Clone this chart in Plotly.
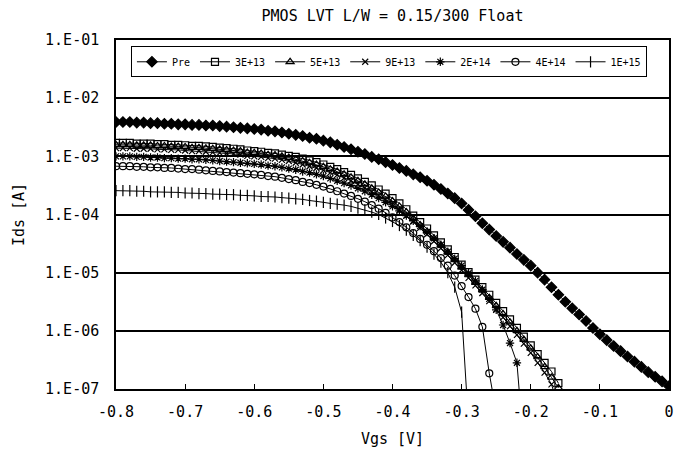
import plotly.graph_objects as go

vgs = [-0.80, -0.79, -0.78, -0.77, -0.76, -0.75, -0.74, -0.73, -0.72, -0.71,
       -0.70, -0.69, -0.68, -0.67, -0.66, -0.65, -0.64, -0.63, -0.62, -0.61,
       -0.60, -0.59, -0.58, -0.57, -0.56, -0.55, -0.54, -0.53, -0.52, -0.51,
       -0.50, -0.49, -0.48, -0.47, -0.46, -0.45, -0.44, -0.43, -0.42, -0.41,
       -0.40, -0.39, -0.38, -0.37, -0.36, -0.35, -0.34, -0.33, -0.32, -0.31,
       -0.30, -0.29, -0.28, -0.27, -0.26, -0.25, -0.24, -0.23, -0.22, -0.21,
       -0.20, -0.19, -0.18, -0.17, -0.16, -0.15, -0.14, -0.13, -0.12, -0.11,
       -0.10, -0.09, -0.08, -0.07, -0.06, -0.05, -0.04, -0.03, -0.02, -0.01,
       0.00]

ids_pre = [3.89e-3, 3.89e-3, 3.89e-3, 3.80e-3, 3.80e-3, 3.72e-3, 3.72e-3, 3.63e-3, 3.63e-3, 3.55e-3,
           3.55e-3, 3.47e-3, 3.47e-3, 3.39e-3, 3.39e-3, 3.31e-3, 3.24e-3, 3.16e-3, 3.09e-3, 3.02e-3,
           2.95e-3, 2.88e-3, 2.75e-3, 2.69e-3, 2.57e-3, 2.45e-3, 2.34e-3, 2.24e-3, 2.09e-3, 2.00e-3,
           1.86e-3, 1.74e-3, 1.58e-3, 1.45e-3, 1.32e-3, 1.20e-3, 1.10e-3, 9.77e-4, 8.91e-4, 7.94e-4,
           7.08e-4, 6.31e-4, 5.62e-4, 4.90e-4, 4.37e-4, 3.80e-4, 3.24e-4, 2.75e-4, 2.29e-4, 1.91e-4,
           1.55e-4, 1.20e-4, 9.33e-5, 7.08e-5, 5.50e-5, 4.27e-5, 3.39e-5, 2.69e-5, 2.09e-5, 1.66e-5,
           1.32e-5, 1.00e-5, 7.59e-6, 5.62e-6, 4.17e-6, 3.16e-6, 2.45e-6, 1.91e-6, 1.48e-6, 1.12e-6,
           8.71e-7, 6.92e-7, 5.50e-7, 4.47e-7, 3.63e-7, 2.95e-7, 2.40e-7, 1.95e-7, 1.62e-7, 1.35e-7,
           1.12e-7]

ids_3e13 = [1.70e-3, 1.70e-3, 1.70e-3, 1.66e-3, 1.66e-3, 1.66e-3, 1.62e-3, 1.62e-3, 1.58e-3, 1.58e-3,
            1.55e-3, 1.51e-3, 1.51e-3, 1.48e-3, 1.45e-3, 1.41e-3, 1.38e-3, 1.35e-3, 1.32e-3, 1.26e-3,
            1.23e-3, 1.20e-3, 1.15e-3, 1.12e-3, 1.07e-3, 1.02e-3, 9.77e-4, 9.12e-4, 8.51e-4, 7.94e-4,
            7.24e-4, 6.61e-4, 6.03e-4, 5.37e-4, 4.79e-4, 4.17e-4, 3.63e-4, 3.16e-4, 2.69e-4, 2.29e-4,
            1.91e-4, 1.55e-4, 1.23e-4, 9.55e-5, 7.41e-5, 5.75e-5, 4.37e-5, 3.31e-5, 2.51e-5, 1.86e-5,
            1.38e-5, 1.02e-5, 7.59e-6, 5.62e-6, 4.17e-6, 3.02e-6, 2.19e-6, 1.58e-6, 1.12e-6, 7.94e-7,
            5.62e-7, 3.98e-7, 2.82e-7, 2.00e-7, 1.26e-7, None, None, None, None, None,
            None, None, None, None, None, None, None, None, None, None,
            None]

ids_5e13 = [1.58e-3, 1.58e-3, 1.58e-3, 1.55e-3, 1.55e-3, 1.55e-3, 1.51e-3, 1.51e-3, 1.48e-3, 1.48e-3,
            1.45e-3, 1.41e-3, 1.41e-3, 1.38e-3, 1.35e-3, 1.32e-3, 1.29e-3, 1.26e-3, 1.23e-3, 1.17e-3,
            1.15e-3, 1.12e-3, 1.07e-3, 1.05e-3, 1.00e-3, 9.55e-4, 8.91e-4, 8.32e-4, 7.76e-4, 7.24e-4,
            6.61e-4, 6.03e-4, 5.50e-4, 4.90e-4, 4.37e-4, 3.80e-4, 3.31e-4, 2.82e-4, 2.40e-4, 2.04e-4,
            1.70e-4, 1.38e-4, 1.10e-4, 8.51e-5, 6.61e-5, 5.13e-5, 3.89e-5, 2.95e-5, 2.24e-5, 1.66e-5,
            1.23e-5, 9.12e-6, 6.76e-6, 5.01e-6, 3.72e-6, 2.69e-6, 1.95e-6, 1.41e-6, 1.00e-6, 7.08e-7,
            5.01e-7, 3.55e-7, 2.40e-7, 1.58e-7, 1.05e-7, None, None, None, None, None,
            None, None, None, None, None, None, None, None, None, None,
            None]

ids_9e13 = [1.38e-3, 1.38e-3, 1.38e-3, 1.35e-3, 1.35e-3, 1.35e-3, 1.32e-3, 1.32e-3, 1.29e-3, 1.29e-3,
            1.26e-3, 1.23e-3, 1.23e-3, 1.20e-3, 1.17e-3, 1.15e-3, 1.12e-3, 1.10e-3, 1.07e-3, 1.02e-3,
            1.00e-3, 9.77e-4, 9.33e-4, 9.12e-4, 8.71e-4, 8.32e-4, 7.76e-4, 7.24e-4, 6.76e-4, 6.31e-4,
            5.75e-4, 5.25e-4, 4.79e-4, 4.27e-4, 3.80e-4, 3.31e-4, 2.88e-4, 2.45e-4, 2.09e-4, 1.78e-4,
            1.48e-4, 1.20e-4, 9.55e-5, 7.59e-5, 5.89e-5, 4.57e-5, 3.47e-5, 2.63e-5, 2.00e-5, 1.48e-5,
            1.10e-5, 8.13e-6, 6.03e-6, 4.47e-6, 3.24e-6, 2.34e-6, 1.70e-6, 1.20e-6, 8.51e-7, 6.03e-7,
            4.17e-7, 2.82e-7, 1.91e-7, 1.20e-7, 5.01e-8, None, None, None, None, None,
            None, None, None, None, None, None, None, None, None, None,
            None]

ids_2e14 = [1.00e-3, 1.00e-3, 1.00e-3, 9.77e-4, 9.77e-4, 9.55e-4, 9.55e-4, 9.33e-4, 9.33e-4, 9.12e-4,
            9.12e-4, 8.91e-4, 8.91e-4, 8.71e-4, 8.51e-4, 8.32e-4, 8.13e-4, 7.94e-4, 7.76e-4, 7.59e-4,
            7.41e-4, 7.24e-4, 6.92e-4, 6.76e-4, 6.46e-4, 6.17e-4, 5.89e-4, 5.50e-4, 5.25e-4, 4.90e-4,
            4.57e-4, 4.17e-4, 3.80e-4, 3.47e-4, 3.16e-4, 2.82e-4, 2.51e-4, 2.19e-4, 1.91e-4, 1.62e-4,
            1.38e-4, 1.15e-4, 9.55e-5, 7.76e-5, 6.31e-5, 5.01e-5, 3.89e-5, 3.02e-5, 2.29e-5, 1.74e-5,
            1.32e-5, 9.77e-6, 7.24e-6, 5.13e-6, 3.55e-6, 2.29e-6, 1.26e-6, 6.17e-7, 2.82e-7, 1.00e-8,
            None, None, None, None, None, None, None, None, None, None,
            None, None, None, None, None, None, None, None, None, None,
            None]

ids_4e14 = [6.76e-4, 6.76e-4, 6.76e-4, 6.61e-4, 6.61e-4, 6.46e-4, 6.46e-4, 6.31e-4, 6.31e-4, 6.17e-4,
            6.03e-4, 6.03e-4, 5.89e-4, 5.75e-4, 5.62e-4, 5.50e-4, 5.37e-4, 5.25e-4, 5.13e-4, 5.01e-4,
            4.90e-4, 4.79e-4, 4.57e-4, 4.47e-4, 4.27e-4, 4.07e-4, 3.89e-4, 3.63e-4, 3.47e-4, 3.24e-4,
            3.02e-4, 2.75e-4, 2.51e-4, 2.29e-4, 2.09e-4, 1.86e-4, 1.66e-4, 1.45e-4, 1.26e-4, 1.07e-4,
            8.91e-5, 7.41e-5, 6.03e-5, 4.79e-5, 3.80e-5, 3.02e-5, 2.34e-5, 1.78e-5, 1.32e-5, 8.91e-6,
            5.89e-6, 3.80e-6, 2.40e-6, 1.17e-6, 1.86e-7, 3.98e-8, None, None, None, None,
            None, None, None, None, None, None, None, None, None, None,
            None, None, None, None, None, None, None, None, None, None,
            None]

ids_1e15 = [2.57e-4, 2.57e-4, 2.57e-4, 2.51e-4, 2.51e-4, 2.45e-4, 2.45e-4, 2.45e-4, 2.40e-4, 2.40e-4,
            2.34e-4, 2.34e-4, 2.29e-4, 2.29e-4, 2.24e-4, 2.24e-4, 2.19e-4, 2.19e-4, 2.14e-4, 2.14e-4,
            2.09e-4, 2.04e-4, 2.04e-4, 2.00e-4, 1.95e-4, 1.91e-4, 1.86e-4, 1.82e-4, 1.74e-4, 1.70e-4,
            1.62e-4, 1.55e-4, 1.51e-4, 1.45e-4, 1.38e-4, 1.29e-4, 1.20e-4, 1.10e-4, 1.00e-4, 8.71e-5,
            7.59e-5, 6.46e-5, 5.37e-5, 4.37e-5, 3.55e-5, 2.75e-5, 2.09e-5, 1.51e-5, 1.00e-5, 5.62e-6,
            2.09e-6, 2.51e-8, None, None, None, None, None, None, None, None,
            None, None, None, None, None, None, None, None, None, None,
            None, None, None, None, None, None, None, None, None, None,
            None]

series_names = ["Pre", "3E+13", "5E+13", "9E+13", "2E+14", "4E+14", "1E+15"]
series_values = [ids_pre, ids_3e13, ids_5e13, ids_9e13, ids_2e14, ids_4e14, ids_1e15]

x_tickvals = [-0.8, -0.7, -0.6, -0.5, -0.4, -0.3, -0.2, -0.1, 0.0]
x_ticktext = ["-0.8", "-0.7", "-0.6", "-0.5", "-0.4", "-0.3", "-0.2", "-0.1", "0"]
y_tickvals = [1e-7, 1e-6, 1e-5, 1e-4, 1e-3, 1e-2, 1e-1]
y_ticktext = ["1.E-07", "1.E-06", "1.E-05", "1.E-04", "1.E-03", "1.E-02", "1.E-01"]

symbols = ["diamond", "square-open", "triangle-up-open", "x-thin-open",
           "asterisk-open", "circle-open", "line-ns-open"]
sizes = [8, 7, 7, 6, 7, 7, 8]

FONT = "DejaVu Sans Mono"

fig = go.Figure()
for name, vals, sym, sz in zip(series_names, series_values, symbols, sizes):
    fig.add_trace(go.Scatter(
        x=vgs, y=vals, name=name, mode="lines+markers",
        line=dict(color="black", width=1),
        marker=dict(symbol=sym, size=sz, color="black",
                    line=dict(color="black", width=1.2)),
        connectgaps=False,
    ))

fig.update_layout(
    width=690, height=458,
    margin=dict(l=116, r=21, t=40, b=69),
    paper_bgcolor="white", plot_bgcolor="white",
    font=dict(family=FONT, color="black", size=15),
    title=dict(text="PMOS LVT L/W = 0.15/300 Float", x=0.5, xref="paper",
               xanchor="center", y=1 - 16 / 458, yanchor="middle",
               font=dict(family=FONT, size=15, color="black")),
    showlegend=True,
    legend=dict(orientation="h", x=0.027, y=0.982, xanchor="left", yanchor="top",
                bgcolor="white", bordercolor="black", borderwidth=1,
                font=dict(family=FONT, size=10, color="black"),
                itemwidth=30, tracegroupgap=0),
    xaxis=dict(range=[-0.8, 0.0], tickvals=x_tickvals, ticktext=x_ticktext,
               ticks="inside", ticklen=5, tickcolor="black", tickwidth=1,
               showline=True, mirror=True, linecolor="black", linewidth=1.5,
               showgrid=False, zeroline=False, ticklabelstandoff=8,
               tickfont=dict(family=FONT, size=15),
               title=dict(text="Vgs [V]", standoff=14, font=dict(family=FONT, size=15))),
    yaxis=dict(type="log", range=[-7, -1], tickvals=y_tickvals, ticktext=y_ticktext,
               ticks="", showline=True, mirror=True, linecolor="black", linewidth=1.5,
               showgrid=True, gridcolor="black", gridwidth=1.5, zeroline=False,
               ticklabelstandoff=12,
               tickfont=dict(family=FONT, size=15),
               title=dict(text="Ids [A]", standoff=17, font=dict(family=FONT, size=15))),
)

fig.write_html("out.html")
